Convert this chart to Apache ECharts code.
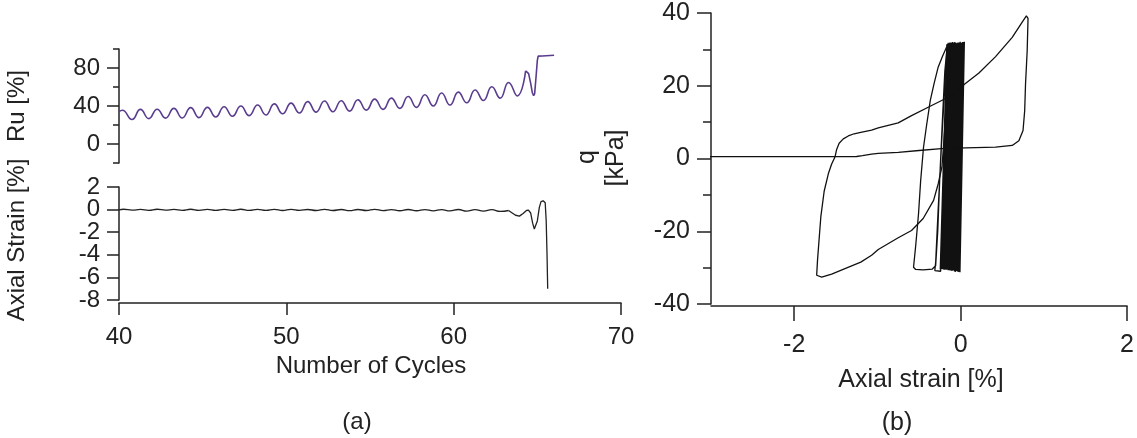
<!DOCTYPE html>
<html>
<head>
<meta charset="utf-8">
<script src="https://cdn.jsdelivr.net/npm/echarts@6/dist/echarts.min.js"></script>
<style>
  html, body { margin: 0; padding: 0; background: #ffffff; }
  #chart { width: 1137px; height: 438px; }
</style>
</head>
<body>
<div id="chart"></div>
<script>
// ---------- (a) pore pressure ratio and axial strain versus number of cycles ----------
// Ru [%]: start value, then alternating peaks and troughs of each loading cycle
const ruCycle = [
  40.00, 40.20, 40.78, 41.28, 41.78, 42.28, 42.78, 43.28, 43.78, 44.28, 44.78,
  45.28, 45.78, 46.28, 46.78, 47.28, 47.78, 48.28, 48.78, 49.28, 49.78,
  50.28, 50.78, 51.28, 51.78, 52.28, 52.78, 53.28, 53.78, 54.28, 54.78,
  55.28, 55.78, 56.28, 56.78, 57.28, 57.78, 58.28, 58.78, 59.28, 59.78,
  60.28, 60.78, 61.28, 61.78, 62.28, 62.78, 63.28, 63.80, 64.30
];
const ruValue = [
  34.0, 35.5, 25.8, 36.4, 26.7, 36.6, 27.2, 37.5, 27.4, 38.3, 27.8,
  38.6, 28.5, 39.2, 29.2, 40.0, 29.9, 41.0, 30.6, 42.2, 31.8,
  43.0, 32.6, 44.6, 33.6, 45.2, 34.0, 45.6, 34.6, 46.5, 35.7,
  47.2, 36.4, 48.3, 37.5, 50.0, 38.6, 51.9, 40.0, 53.7, 41.0,
  54.6, 43.4, 56.8, 45.8, 60.2, 48.3, 64.8, 50.6, 77.0
];
// Ru [%] at liquefaction: last swing and the plateau
const ruEndCycle = [64.30, 64.38, 64.48, 64.60, 64.70, 64.78, 64.84, 64.92, 65.00, 65.05, 65.30, 66.00];
const ruEndValue = [77.0, 77.3, 74.0, 64.0, 54.0, 50.8, 53.0, 70.0, 88.0, 92.5, 92.7, 93.5];

// Axial strain [%]: small oscillation around zero
const strainCycle = [
  40.00, 40.28, 40.78, 41.28, 41.78, 42.28, 42.78, 43.28, 43.78, 44.28, 44.78,
  45.28, 45.78, 46.28, 46.78, 47.28, 47.78, 48.28, 48.78, 49.28, 49.78,
  50.28, 50.78, 51.28, 51.78, 52.28, 52.78, 53.28, 53.78, 54.28, 54.78,
  55.28, 55.78, 56.28, 56.78, 57.28, 57.78, 58.28, 58.78, 59.28, 59.78,
  60.28, 60.78, 61.28, 61.78, 62.28, 62.78, 63.28
];
const strainValue = [
  -0.03, 0.03, -0.05, 0.02, -0.06, 0.03, -0.05, 0.02, -0.06, 0.03, -0.06,
  0.02, -0.07, 0.02, -0.06, 0.03, -0.07, 0.02, -0.07, 0.02, -0.08,
  0.02, -0.07, 0.01, -0.08, 0.02, -0.08, 0.01, -0.09, 0.01, -0.08,
  0.02, -0.09, 0.00, -0.10, 0.01, -0.10, 0.00, -0.11, 0.00, -0.12,
  0.01, -0.13, -0.01, -0.14, -0.01, -0.16, -0.08
];
// Axial strain [%] at liquefaction: final swings and the collapse in extension
const strainEndCycle = [63.28, 63.50, 63.70, 63.93, 64.15, 64.35, 64.47, 64.60, 64.72, 64.82, 64.90, 65.00, 65.12, 65.22, 65.35, 65.47, 65.53, 65.58, 65.62];
const strainEndValue = [-0.08, -0.30, -0.50, -0.58, -0.35, -0.08, -0.05, -0.30, -1.20, -1.72, -1.70, -1.00, 0.20, 0.70, 0.78, 0.60, -1.00, -4.00, -7.00];

// ---------- (b) deviator stress q [kPa] versus axial strain [%] ----------
// run of small cycles around zero strain: [strain, q]
const cyclicBand = [
  [0.000, 0.0],
  [0.000, 31.6], [-0.060, -30.6],
  [0.020, 31.9], [-0.040, -30.9],
  [0.030, 32.0], [-0.025, -31.1],
  [0.045, 32.1], [-0.008, -31.3],
  [0.035, 31.8], [-0.020, -31.2],
  [0.010, 31.7], [-0.050, -30.9],
  [-0.010, 31.9], [-0.070, -30.8],
  [0.025, 32.0], [-0.035, -31.1],
  [0.005, 31.8], [-0.055, -31.0],
  [-0.020, 31.7], [-0.080, -30.8],
  [-0.030, 31.9], [-0.090, -30.7],
  [-0.005, 32.1], [-0.065, -31.2],
  [-0.040, 31.8], [-0.100, -30.8],
  [-0.050, 31.6], [-0.110, -30.7],
  [-0.015, 31.9], [-0.075, -31.0],
  [-0.060, 31.8], [-0.125, -30.6],
  [-0.070, 32.0], [-0.135, -30.7],
  [-0.045, 31.7], [-0.105, -30.9],
  [-0.080, 31.9], [-0.145, -30.6],
  [-0.090, 31.7], [-0.155, -30.5],
  [-0.065, 31.8], [-0.125, -30.8],
  [-0.100, 32.0], [-0.165, -30.5],
  [-0.110, 31.8], [-0.175, -30.6],
  [-0.085, 31.9], [-0.150, -30.7],
  [-0.120, 31.7], [-0.185, -30.5],
  [-0.130, 31.9], [-0.200, -30.4],
  [-0.105, 31.8], [-0.170, -30.6],
  [-0.140, 31.6], [-0.210, -30.5],
  [-0.150, 31.8], [-0.225, -30.4],
  [-0.125, 31.9], [-0.195, -30.6],
  [-0.160, 31.5], [-0.235, -30.4],
  [-0.135, 31.7], [-0.245, -30.5],
  [-0.165, 31.4]
];
// two wider cycles on the extension side
const widerCycles = [
  [-0.170, 30.6], [-0.220, 28.0], [-0.270, 25.1], [-0.320, 20.5], [-0.365, 15.9],
  [-0.410, 9.0], [-0.446, 3.1], [-0.480, -6.0], [-0.506, -15.2], [-0.540, -24.0],
  [-0.566, -29.9], [-0.540, -30.5], [-0.450, -30.6], [-0.340, -30.4], [-0.300, -29.5],
  [-0.275, -20.0], [-0.250, -5.0], [-0.220, 10.0], [-0.190, 24.0], [-0.160, 31.2],
  [-0.220, 8.0], [-0.270, -14.0], [-0.300, -28.5], [-0.310, -30.8], [-0.240, -31.0],
  [-0.200, -12.0], [-0.160, 14.0], [-0.120, 31.6]
];
// large extension loop, compression to the peak, unloading and failure in extension
const largeLoops = [
  [-0.120, 31.6], [-0.160, 18.0], [-0.200, 5.0], [-0.225, -2.4], [-0.270, -7.0],
  [-0.325, -11.5], [-0.450, -16.5], [-0.590, -19.8], [-0.750, -21.8], [-0.990, -25.0],
  [-1.070, -26.6], [-1.200, -28.5], [-1.390, -30.3], [-1.550, -31.8], [-1.670, -32.6],
  [-1.730, -32.1], [-1.720, -28.0], [-1.700, -22.0], [-1.680, -16.0], [-1.640, -9.0],
  [-1.590, -4.2], [-1.550, -1.5], [-1.510, 0.4], [-1.490, 2.5], [-1.460, 4.2],
  [-1.410, 5.4], [-1.350, 6.2], [-1.280, 6.8], [-1.200, 7.2], [-1.070, 7.8],
  [-0.990, 8.4], [-0.750, 9.8], [-0.590, 11.8], [-0.390, 14.1], [-0.180, 16.5],
  [-0.050, 18.5], [0.050, 20.5], [0.220, 23.5], [0.420, 28.0], [0.620, 33.3],
  [0.740, 37.5], [0.790, 39.2], [0.810, 39.4], [0.810, 38.5], [0.800, 29.7],
  [0.780, 20.5], [0.770, 13.2], [0.750, 7.7], [0.700, 4.9], [0.620, 3.6],
  [0.420, 3.1], [0.060, 2.9], [-0.230, 2.7], [-0.500, 2.2], [-0.750, 1.7],
  [-0.990, 1.4], [-1.070, 1.2], [-1.180, 0.8], [-1.250, 0.55], [-1.400, 0.5],
  [-3.500, 0.5], [-7.000, 0.5]
];

// tick values
const ruMajorTicks = [0, 40, 80];
const ruMinorTicks = [-20, 20, 60, 100];
// strain labels of panel (a) are split in two alternating sets so none of them collide
const strainATicksEven = [-8, -4, 0];
const strainATicksOdd = [-6, -2, 2];
const strainBTicks = [-2, 0, 2];

const INK = '#222222';
const RU_COLOR = '#5a3d8f';
const FONT = 'Liberation Sans, Arial, Helvetica, sans-serif';
const FS_A = 24;
const FS_B = 25;

const zip = (xs, ys) => xs.map((x, i) => [x, ys[i]]);

const lineSeries = (xi, yi, data, color, width, smooth) => ({
  type: 'line',
  xAxisIndex: xi,
  yAxisIndex: yi,
  data: data,
  smooth: smooth,
  showSymbol: false,
  symbol: 'none',
  clip: true,
  lineStyle: { color: color, width: width },
  emphasis: { disabled: true }
});

const axisLine = { show: true, onZero: false, lineStyle: { color: INK, width: 1.5 } };
const tickStyle = { color: INK, width: 1.5 };
const labelBase = (fs, margin, values) => {
  const o = { margin: margin, color: INK, fontSize: fs, fontFamily: FONT,
              showMinLabel: true, showMaxLabel: true, hideOverlap: false };
  if (values) o.customValues = values;
  return o;
};

const chart = echarts.init(document.getElementById('chart'), null, { renderer: 'canvas' });

chart.setOption({
  animation: false,
  backgroundColor: '#ffffff',
  textStyle: { fontFamily: FONT },
  grid: [
    { left: 119, top: 49, width: 502, height: 114 },
    { left: 119, top: 187, width: 502, height: 113 },
    { left: 711, top: 13, width: 417, height: 291 }
  ],
  xAxis: [
    { gridIndex: 0, type: 'value', min: 40, max: 70, show: false },
    {
      gridIndex: 1, type: 'value', min: 40, max: 70, interval: 10, position: 'bottom', offset: 3,
      axisLine: axisLine,
      axisTick: { show: true, inside: false, length: 12, lineStyle: tickStyle },
      axisLabel: labelBase(FS_A, 22),
      splitLine: { show: false }
    },
    {
      gridIndex: 2, type: 'value', min: -3, max: 2, position: 'bottom', offset: 2,
      axisLine: axisLine,
      axisTick: { show: true, inside: false, length: 15, lineStyle: tickStyle, customValues: strainBTicks },
      axisLabel: labelBase(FS_B, 27, strainBTicks),
      splitLine: { show: false }
    }
  ],
  yAxis: [
    {
      gridIndex: 0, type: 'value', min: -20, max: 100, position: 'left',
      axisLine: axisLine,
      axisTick: { show: true, inside: false, length: 12, lineStyle: tickStyle, customValues: ruMajorTicks },
      axisLabel: labelBase(FS_A, 19, ruMajorTicks),
      splitLine: { show: false }
    },
    {
      gridIndex: 0, type: 'value', min: -20, max: 100, position: 'left',
      axisLine: { show: false },
      axisTick: { show: true, inside: false, length: 6, lineStyle: tickStyle, customValues: ruMinorTicks },
      axisLabel: { show: false },
      splitLine: { show: false }
    },
    {
      gridIndex: 1, type: 'value', min: -8, max: 2, position: 'left',
      axisLine: axisLine,
      axisTick: { show: true, inside: false, length: 12, lineStyle: tickStyle, customValues: strainATicksEven },
      axisLabel: labelBase(FS_A, 19, strainATicksEven),
      splitLine: { show: false }
    },
    {
      gridIndex: 1, type: 'value', min: -8, max: 2, position: 'left',
      axisLine: { show: false },
      axisTick: { show: true, inside: false, length: 12, lineStyle: tickStyle, customValues: strainATicksOdd },
      axisLabel: labelBase(FS_A, 19, strainATicksOdd),
      splitLine: { show: false }
    },
    {
      gridIndex: 2, type: 'value', min: -40, max: 40, interval: 20, position: 'left',
      axisLine: axisLine,
      axisTick: { show: true, inside: false, length: 14, lineStyle: tickStyle },
      minorTick: { show: true, splitNumber: 2, length: 8, lineStyle: tickStyle },
      axisLabel: labelBase(FS_B, 21),
      splitLine: { show: false },
      minorSplitLine: { show: false }
    }
  ],
  series: [
    lineSeries(0, 0, zip(ruCycle, ruValue), RU_COLOR, 1.6, 0.5),
    lineSeries(0, 0, zip(ruEndCycle, ruEndValue), RU_COLOR, 1.6, false),
    lineSeries(1, 2, zip(strainCycle, strainValue), INK, 1.3, 0.5),
    lineSeries(1, 2, zip(strainEndCycle, strainEndValue), INK, 1.3, false),
    lineSeries(2, 4, cyclicBand, '#111111', 1.3, false),
    lineSeries(2, 4, widerCycles, '#111111', 1.3, false),
    lineSeries(2, 4, largeLoops, '#111111', 1.3, false)
  ],
  graphic: [
    { type: 'text', x: 17, y: 106, rotation: Math.PI / 2,
      style: { text: 'Ru [%]', fontSize: FS_A, fontFamily: FONT, fill: INK, align: 'center', verticalAlign: 'middle' } },
    { type: 'text', x: 17, y: 240, rotation: Math.PI / 2,
      style: { text: 'Axial Strain [%]', fontSize: FS_A, fontFamily: FONT, fill: INK, align: 'center', verticalAlign: 'middle' } },
    { type: 'text', x: 371, y: 366,
      style: { text: 'Number of Cycles', fontSize: FS_A, fontFamily: FONT, fill: INK, align: 'center', verticalAlign: 'middle' } },
    { type: 'text', x: 357, y: 422,
      style: { text: '(a)', fontSize: FS_A, fontFamily: FONT, fill: INK, align: 'center', verticalAlign: 'middle' } },
    { type: 'text', x: 587, y: 157, rotation: Math.PI / 2,
      style: { text: 'q', fontSize: FS_B, fontFamily: FONT, fill: INK, align: 'center', verticalAlign: 'middle' } },
    { type: 'text', x: 616, y: 158, rotation: Math.PI / 2,
      style: { text: '[kPa]', fontSize: FS_B, fontFamily: FONT, fill: INK, align: 'center', verticalAlign: 'middle' } },
    { type: 'text', x: 921, y: 380,
      style: { text: 'Axial strain [%]', fontSize: FS_B, fontFamily: FONT, fill: INK, align: 'center', verticalAlign: 'middle' } },
    { type: 'text', x: 897, y: 423,
      style: { text: '(b)', fontSize: FS_B, fontFamily: FONT, fill: INK, align: 'center', verticalAlign: 'middle' } }
  ]
});
</script>
</body>
</html>
